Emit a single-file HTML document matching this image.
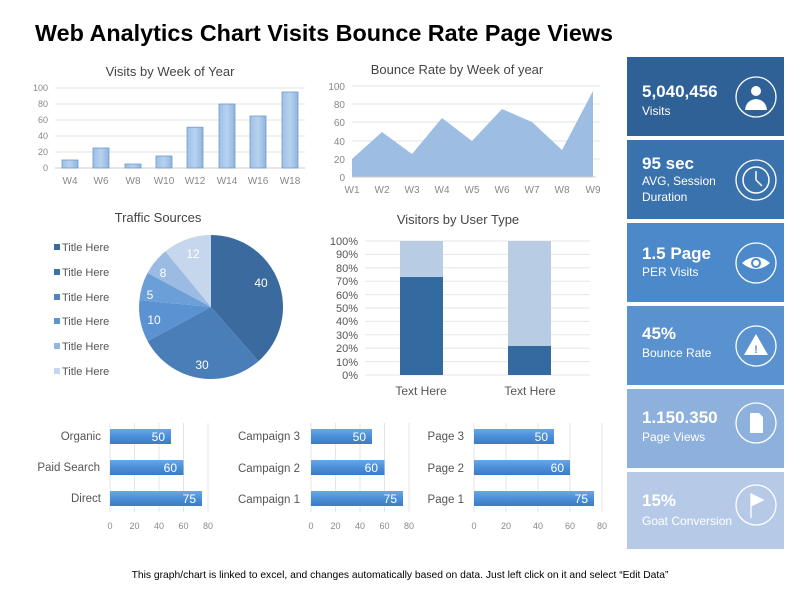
<!DOCTYPE html>
<html><head><meta charset="utf-8"><style>
body{margin:0;background:#fff;width:800px;height:600px;overflow:hidden;font-family:"Liberation Sans",sans-serif}
</style></head><body>
<svg width="800" height="600" viewBox="0 0 800 600" font-family="Liberation Sans, sans-serif">
<defs>
<linearGradient id="vb" x1="0" x2="1"><stop offset="0" stop-color="#9dc0e6"/><stop offset="0.5" stop-color="#b7d2ef"/><stop offset="1" stop-color="#8fb5df"/></linearGradient>
<linearGradient id="hb" x1="0" y1="0" x2="0" y2="1"><stop offset="0" stop-color="#6aa6e6"/><stop offset="0.5" stop-color="#4a8fd8"/><stop offset="1" stop-color="#3a7cc4"/></linearGradient>
</defs>
<text x="35" y="41" font-size="23" font-weight="bold" fill="#000" textLength="578" lengthAdjust="spacingAndGlyphs">Web Analytics Chart Visits Bounce Rate Page Views</text>

<!-- Visits -->
<text x="170" y="76" font-size="13" fill="#444" text-anchor="middle">Visits  by Week of Year</text>
<g stroke="#e3e3e3" stroke-width="1">
<line x1="55" x2="305" y1="88" y2="88"/><line x1="55" x2="305" y1="104" y2="104"/><line x1="55" x2="305" y1="120" y2="120"/><line x1="55" x2="305" y1="136" y2="136"/><line x1="55" x2="305" y1="152" y2="152"/><line x1="55" x2="305" y1="168" y2="168" stroke="#ccc"/>
</g>
<g font-size="9" fill="#888" text-anchor="end">
<text x="48" y="91">100</text><text x="48" y="107">80</text><text x="48" y="123">60</text><text x="48" y="139">40</text><text x="48" y="155">20</text><text x="48" y="171">0</text>
</g>
<g fill="url(#vb)" stroke="#6f9bcc" stroke-width="0.8">
<rect x="62" y="160" width="16" height="8"/><rect x="93" y="148" width="16" height="20"/><rect x="125" y="164" width="16" height="4"/><rect x="156" y="156" width="16" height="12"/><rect x="187" y="127.2" width="16" height="40.8"/><rect x="219" y="104" width="16" height="64"/><rect x="250" y="116" width="16" height="52"/><rect x="282" y="92" width="16" height="76"/>
</g>
<g font-size="10" fill="#888" text-anchor="middle">
<text x="70" y="184">W4</text><text x="101" y="184">W6</text><text x="133" y="184">W8</text><text x="164" y="184">W10</text><text x="195" y="184">W12</text><text x="227" y="184">W14</text><text x="258" y="184">W16</text><text x="290" y="184">W18</text>
</g>

<!-- Bounce -->
<text x="457" y="74" font-size="13" fill="#444" text-anchor="middle">Bounce Rate by Week of year</text>
<g stroke="#e3e3e3"><line x1="352" x2="600" y1="86" y2="86"/><line x1="352" x2="600" y1="104" y2="104"/><line x1="352" x2="600" y1="122" y2="122"/><line x1="352" x2="600" y1="141" y2="141"/><line x1="352" x2="600" y1="159" y2="159"/></g>
<g font-size="10" fill="#888" text-anchor="end">
<text x="345" y="90">100</text><text x="345" y="108">80</text><text x="345" y="126">60</text><text x="345" y="145">40</text><text x="345" y="163">20</text><text x="345" y="181">0</text>
</g>
<polygon fill="#9dbde3" points="352,177 352,159 382,132 412,154 442,118 472,141 502,109 532,122 562,150 593,91 593,177"/>
<line x1="352" x2="596" y1="177" y2="177" stroke="#ccc"/>
<g font-size="10" fill="#888" text-anchor="middle">
<text x="352" y="193">W1</text><text x="382" y="193">W2</text><text x="412" y="193">W3</text><text x="442" y="193">W4</text><text x="472" y="193">W5</text><text x="502" y="193">W6</text><text x="532" y="193">W7</text><text x="562" y="193">W8</text><text x="593" y="193">W9</text>
</g>

<!-- Pie -->
<text x="158" y="222" font-size="13" fill="#444" text-anchor="middle">Traffic Sources</text>
<g font-size="11" fill="#555">
<rect x="54" y="244" width="6" height="6" fill="#3a6a9e"/><text x="62" y="251">Title Here</text>
<rect x="54" y="269" width="6" height="6" fill="#41719f"/><text x="62" y="276">Title Here</text>
<rect x="54" y="294" width="6" height="6" fill="#4f86c0"/><text x="62" y="301">Title Here</text>
<rect x="54" y="318" width="6" height="6" fill="#5e94d0"/><text x="62" y="325">Title Here</text>
<rect x="54" y="343" width="6" height="6" fill="#93b4de"/><text x="62" y="350">Title Here</text>
<rect x="54" y="368" width="6" height="6" fill="#c6d6ec"/><text x="62" y="375">Title Here</text>
</g>
<g transform="translate(211,307)">
<path d="M0,0 L0,-72 A72,72 0 0 1 47.4,54.2 Z" fill="#3a6a9e"/>
<path d="M0,0 L47.4,54.2 A72,72 0 0 1 -63.4,34.1 Z" fill="#4a7eb8"/>
<path d="M0,0 L-63.4,34.1 A72,72 0 0 1 -71.6,-6.9 Z" fill="#5b92d2"/>
<path d="M0,0 L-71.6,-6.9 A72,72 0 0 1 -63.4,-34.1 Z" fill="#6b9fd8"/>
<path d="M0,0 L-63.4,-34.1 A72,72 0 0 1 -45.6,-55.7 Z" fill="#9cbbe2"/>
<path d="M0,0 L-45.6,-55.7 A72,72 0 0 1 0,-72 Z" fill="#c6d6ec"/>
<g font-size="12" fill="#fff" text-anchor="middle">
<text x="50" y="-20">40</text><text x="-9" y="62">30</text><text x="-57" y="17">10</text><text x="-61" y="-8">5</text><text x="-48" y="-30">8</text><text x="-18" y="-49">12</text>
</g></g>

<!-- Stacked -->
<text x="458" y="224" font-size="13" fill="#444" text-anchor="middle">Visitors by User Type</text>
<g stroke="#e6e6e6">
<line x1="365" x2="590" y1="241" y2="241"/><line x1="365" x2="590" y1="254.4" y2="254.4"/><line x1="365" x2="590" y1="267.8" y2="267.8"/><line x1="365" x2="590" y1="281.2" y2="281.2"/><line x1="365" x2="590" y1="294.6" y2="294.6"/><line x1="365" x2="590" y1="308" y2="308"/><line x1="365" x2="590" y1="321.4" y2="321.4"/><line x1="365" x2="590" y1="334.8" y2="334.8"/><line x1="365" x2="590" y1="348.2" y2="348.2"/><line x1="365" x2="590" y1="361.6" y2="361.6"/><line x1="365" x2="590" y1="375" y2="375"/>
</g>
<g font-size="11" fill="#555" text-anchor="end">
<text x="358" y="245">100%</text><text x="358" y="258">90%</text><text x="358" y="272">80%</text><text x="358" y="285">70%</text><text x="358" y="299">60%</text><text x="358" y="312">50%</text><text x="358" y="325">40%</text><text x="358" y="339">30%</text><text x="358" y="352">20%</text><text x="358" y="366">10%</text><text x="358" y="379">0%</text>
</g>
<rect x="400" y="241" width="43" height="36" fill="#b8cce4"/><rect x="400" y="277" width="43" height="98" fill="#336a9f"/>
<rect x="508" y="241" width="43" height="105" fill="#b8cce4"/><rect x="508" y="346" width="43" height="29" fill="#336a9f"/>
<g font-size="12" fill="#555" text-anchor="middle"><text x="421" y="395">Text Here</text><text x="530" y="395">Text Here</text></g>

<!-- H bars -->
<g stroke="#e6e6e6">
<line x1="110" x2="110" y1="423" y2="512"/><line x1="134.5" x2="134.5" y1="423" y2="512"/><line x1="159" x2="159" y1="423" y2="512"/><line x1="183.5" x2="183.5" y1="423" y2="512"/><line x1="208" x2="208" y1="423" y2="512"/>
<line x1="311" x2="311" y1="423" y2="512"/><line x1="335.5" x2="335.5" y1="423" y2="512"/><line x1="360" x2="360" y1="423" y2="512"/><line x1="384.5" x2="384.5" y1="423" y2="512"/><line x1="409" x2="409" y1="423" y2="512"/>
<line x1="474" x2="474" y1="423" y2="512"/><line x1="506" x2="506" y1="423" y2="512"/><line x1="538" x2="538" y1="423" y2="512"/><line x1="570" x2="570" y1="423" y2="512"/><line x1="602" x2="602" y1="423" y2="512"/>
</g>
<g fill="url(#hb)">
<rect x="110" y="429" width="61" height="15"/><rect x="110" y="460" width="73.5" height="15"/><rect x="110" y="491" width="92" height="15"/>
<rect x="311" y="429" width="61" height="15"/><rect x="311" y="460" width="73.5" height="15"/><rect x="311" y="491" width="92" height="15"/>
<rect x="474" y="429" width="80" height="15"/><rect x="474" y="460" width="96" height="15"/><rect x="474" y="491" width="120" height="15"/>
</g>
<g font-size="12" fill="#fff" text-anchor="end">
<text x="165" y="441">50</text><text x="177" y="472">60</text><text x="196" y="503">75</text>
<text x="366" y="441">50</text><text x="378" y="472">60</text><text x="397" y="503">75</text>
<text x="548" y="441">50</text><text x="564" y="472">60</text><text x="588" y="503">75</text>
</g>
<g font-size="11.5" fill="#555" text-anchor="end">
<text x="101" y="440">Organic</text><text x="100" y="471">Paid Search</text><text x="101" y="502">Direct</text>
<text x="300" y="440">Campaign 3</text><text x="300" y="472">Campaign 2</text><text x="300" y="503">Campaign 1</text>
<text x="464" y="440">Page 3</text><text x="464" y="472">Page 2</text><text x="464" y="503">Page 1</text>
</g>
<g font-size="9" fill="#888" text-anchor="middle">
<text x="110" y="529">0</text><text x="134.5" y="529">20</text><text x="159" y="529">40</text><text x="183.5" y="529">60</text><text x="208" y="529">80</text>
<text x="311" y="529">0</text><text x="335.5" y="529">20</text><text x="360" y="529">40</text><text x="384.5" y="529">60</text><text x="409" y="529">80</text>
<text x="474" y="529">0</text><text x="506" y="529">20</text><text x="538" y="529">40</text><text x="570" y="529">60</text><text x="602" y="529">80</text>
</g>

<!-- Right panels -->
<rect x="627" y="57" width="157" height="79" fill="#2f6096"/>
<rect x="627" y="140" width="157" height="79" fill="#3a72ad"/>
<rect x="627" y="223" width="157" height="79" fill="#4b89ca"/>
<rect x="627" y="306" width="157" height="79" fill="#5a92cf"/>
<rect x="627" y="389" width="157" height="79" fill="#8eb0dc"/>
<rect x="627" y="472" width="157" height="77" fill="#b6cae8"/>
<g fill="#fff">
<text x="642" y="97" font-size="17" font-weight="bold">5,040,456</text><text x="642" y="115" font-size="12">Visits</text>
<text x="642" y="169" font-size="17" font-weight="bold">95 sec</text><text x="642" y="185" font-size="12">AVG, Session</text><text x="642" y="201" font-size="12">Duration</text>
<text x="642" y="259" font-size="17" font-weight="bold">1.5 Page</text><text x="642" y="276" font-size="12">PER Visits</text>
<text x="642" y="339" font-size="17" font-weight="bold">45%</text><text x="642" y="357" font-size="12">Bounce Rate</text>
<text x="642" y="423" font-size="17" font-weight="bold">1.150.350</text><text x="642" y="441" font-size="12">Page Views</text>
<text x="642" y="506" font-size="17" font-weight="bold">15%</text><text x="642" y="525" font-size="12">Goat Conversion</text>
</g>
<g stroke="#fff" stroke-width="1.3" fill="none">
<circle cx="756" cy="97" r="20"/><circle cx="756" cy="180" r="20"/><circle cx="756" cy="263" r="20"/><circle cx="756" cy="346" r="20"/><circle cx="756" cy="423" r="20"/><circle cx="756" cy="505" r="20"/>
</g>
<g fill="#fff">
<circle cx="756" cy="91" r="5"/><path d="M745,110 Q746,100 756,99 Q766,100 767,110 Z"/>
<circle cx="756" cy="180" r="13" fill="none" stroke="#fff" stroke-width="1.5"/><path d="M756,171 L756,180 L762,186" stroke="#fff" stroke-width="1.5" fill="none"/>
<path d="M742,263 Q756,251 770,263 Q756,275 742,263 Z"/><circle cx="756" cy="263" r="5" fill="#4b89ca"/><circle cx="756" cy="263" r="3"/>
<path d="M756,334 L768,355 L744,355 Z"/><text x="756" y="353" font-size="11" font-weight="bold" fill="#5a92cf" text-anchor="middle">!</text>
<path d="M750,413 L759,413 L763,417 L763,433 L750,433 Z"/>
<path d="M751,494 L751,518 M751,494 L763,500 L751,506 Z" stroke="#fff" stroke-width="1.3"/>
</g>
<text x="400" y="578" font-size="10.3" fill="#000" text-anchor="middle">This graph/chart is linked to excel, and changes automatically based on data. Just left click on it and select “Edit Data”</text>
</svg>
</body></html>
